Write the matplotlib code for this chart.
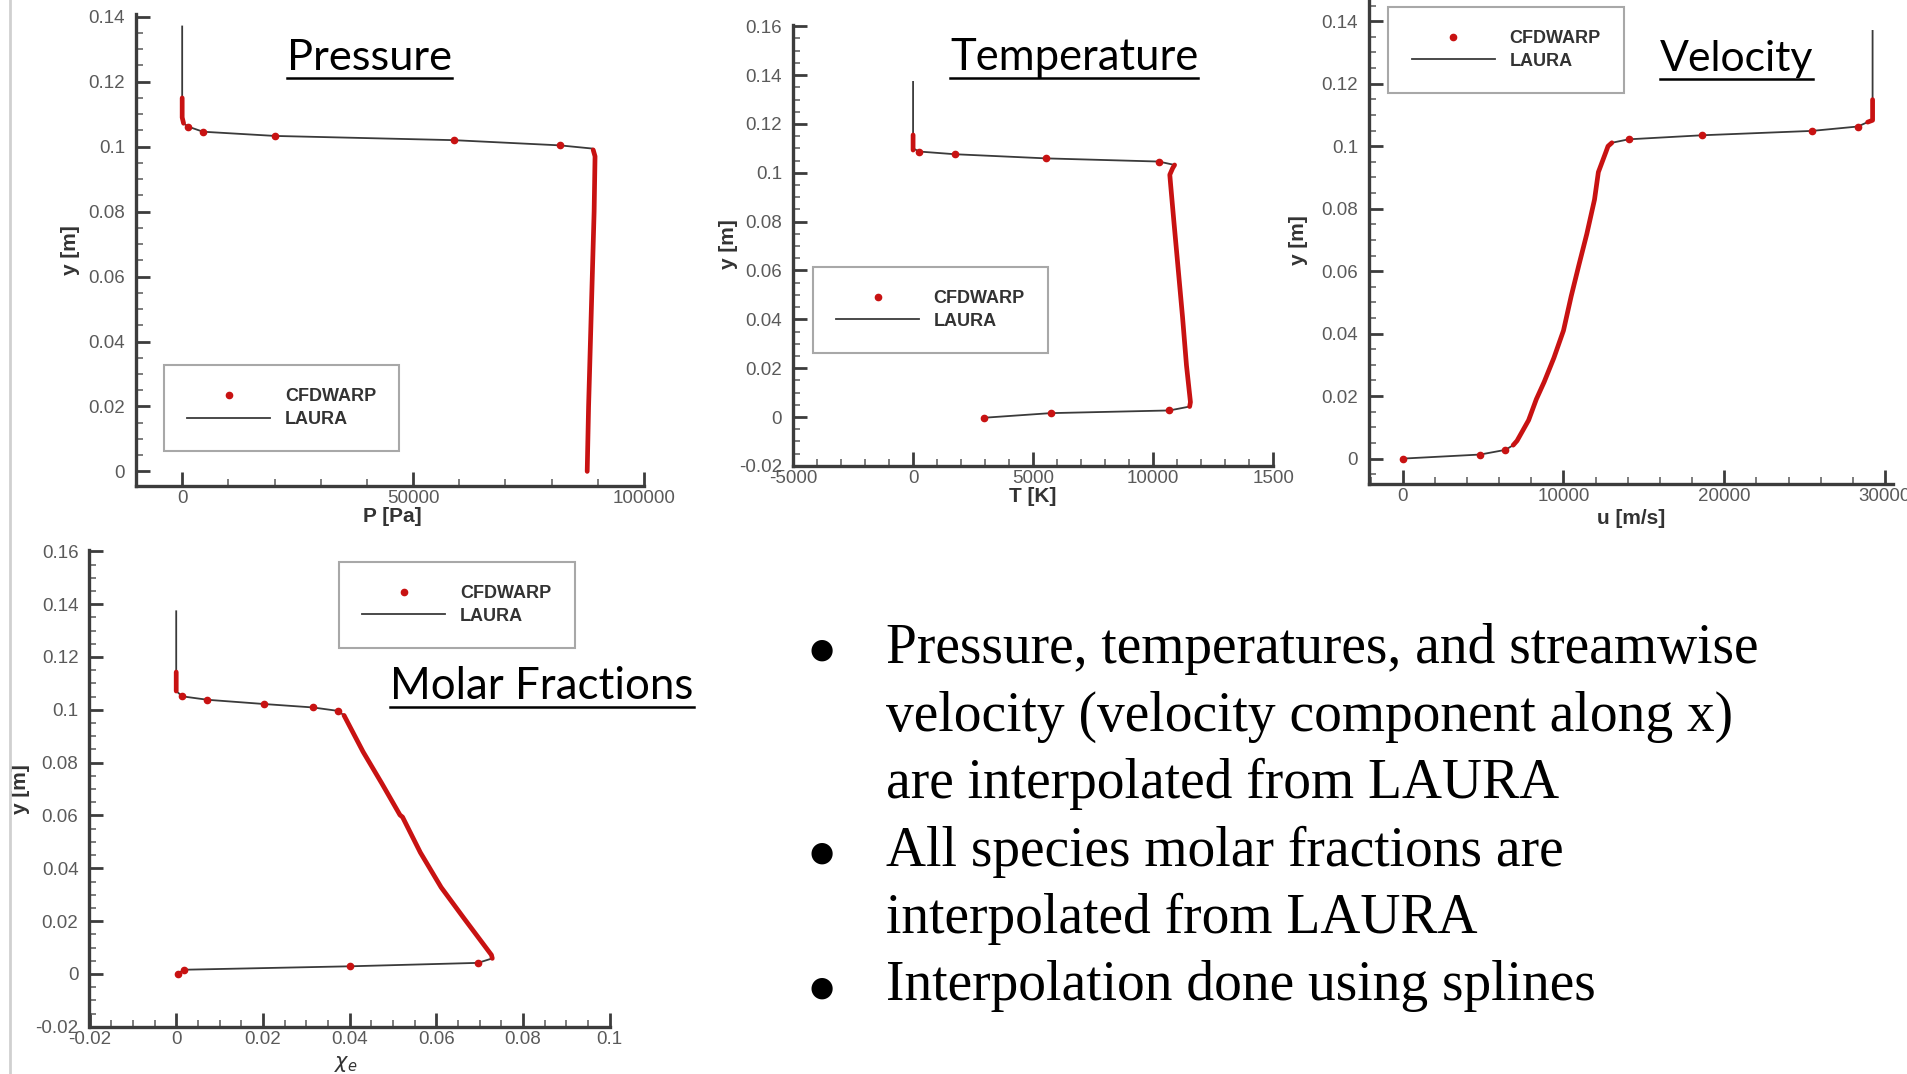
import numpy as np
import matplotlib
matplotlib.use("Agg")
import matplotlib.pyplot as plt
from matplotlib.lines import Line2D
from matplotlib.ticker import MultipleLocator, FuncFormatter, FixedLocator, FixedFormatter

nan = np.nan

# ---- Pressure profile (P [Pa] vs y [m]) ----
p_laura_x = [0, 0, 0, 300, 1240, 4490, 20080, 58800, 81740, 88900, 89400, 89200, 88800, 88400, 88000, 87700]
p_laura_y = [0.137, 0.115, 0.109, 0.1072, 0.1062, 0.1046, 0.1033, 0.1020, 0.1004, 0.0994, 0.097, 0.08, 0.06, 0.04, 0.02, 0.0]
p_cfd_x = [1240, 4490, 20080, 58800, 81740]
p_cfd_y = [0.1062, 0.1046, 0.1033, 0.1020, 0.1004]
p_cfd_dense_x = [0, 0, 0, 300, nan, 89000, 89400, 89200, 88800, 88400, 88000, 87700]
p_cfd_dense_y = [0.1150, 0.112, 0.109, 0.1072, nan, 0.0990, 0.097, 0.08, 0.06, 0.04, 0.02, 0.0]

# ---- Temperature profile (T [K] vs y [m]) ----
t_laura_x = [0, 0, 0, 248, 1733, 5528, 10230, 10890, 10810, 10690, 10725, 10857, 11220, 11385, 11550, 11517, 10676, 5726, 2937]
t_laura_y = [0.1372, 0.1155, 0.110, 0.1087, 0.1076, 0.1059, 0.1046, 0.1032, 0.1019, 0.0992, 0.0951, 0.0804, 0.041, 0.0211, 0.0061, 0.0043, 0.0027, 0.0016, -0.0003]
t_cfd_x = [248, 1733, 5528, 10230, 10676, 5726, 2937]
t_cfd_y = [0.1087, 0.1076, 0.1059, 0.1046, 0.0027, 0.0016, -0.0003]
t_cfd_dense_x = [0, 0, 0, nan, 10890, 10810, 10690, 10725, 10857, 11220, 11385, 11550, 11517]
t_cfd_dense_y = [0.1155, 0.112, 0.1093, nan, 0.1032, 0.1019, 0.0992, 0.0951, 0.0804, 0.041, 0.0211, 0.0061, 0.0043]
t_xticks = [-5000, 0, 5000, 10000, 15000]
t_xticklabels = ["-5000", "0", "5000", "10000", "1500"]

# ---- Streamwise velocity (u [m/s] vs y [m]) ----
u_laura_x = [29230, 29230, 29230, 28920, 28310, 25470, 18630, 14050, 13010, 12770, 12650, 12170, 11930,
             11450, 10960, 10480, 10000, 9400, 8795, 8310, 7830, 7110, 6870, 6390, 4820, 0]
u_laura_y = [0.1369, 0.1149, 0.1083, 0.1077, 0.1063, 0.1049, 0.1035, 0.1022, 0.1011, 0.1000, 0.0983, 0.0917, 0.0829,
             0.0719, 0.0620, 0.0520, 0.0410, 0.0322, 0.0245, 0.0190, 0.0123, 0.0057, 0.0043, 0.0028, 0.0013, 0.0]
u_cfd_x = [28310, 25470, 18630, 14050, 6390, 4820, 0]
u_cfd_y = [0.1063, 0.1049, 0.1035, 0.1022, 0.0028, 0.0013, 0.0]
u_cfd_dense_x = [29230, 29230, 29230, 28920, nan, 13010, 12770, 12650, 12170, 11930, 11450, 10960, 10480,
                 10000, 9400, 8795, 8310, 7830, 7110, 6870]
u_cfd_dense_y = [0.1149, 0.112, 0.1083, 0.1077, nan, 0.1011, 0.1000, 0.0983, 0.0917, 0.0829, 0.0719, 0.0620, 0.0520,
                 0.0410, 0.0322, 0.0245, 0.0190, 0.0123, 0.0057, 0.0043]

# ---- Molar fraction (chi_e vs y [m]) ----
m_laura_x = [0, 0, 0, 0.0014, 0.0072, 0.0202, 0.0315, 0.0373, 0.0387, 0.0431, 0.0474, 0.0516, 0.0522,
             0.0563, 0.0611, 0.0664, 0.0706, 0.0727, 0.0729, 0.0696, 0.0400, 0.0017, 0.0003]
m_laura_y = [0.1373, 0.1143, 0.1071, 0.1051, 0.1038, 0.1022, 0.1009, 0.0996, 0.0979, 0.0841, 0.0722, 0.0602, 0.0594,
             0.0460, 0.0328, 0.0210, 0.0118, 0.0072, 0.0059, 0.0042, 0.0029, 0.0016, 0.0]
m_cfd_x = [0.0014, 0.0072, 0.0202, 0.0315, 0.0373, 0.0696, 0.0400, 0.0017, 0.0003]
m_cfd_y = [0.1051, 0.1038, 0.1022, 0.1009, 0.0996, 0.0042, 0.0029, 0.0016, 0.0]
m_cfd_dense_x = [0, 0, 0, nan, 0.0387, 0.0431, 0.0474, 0.0516, 0.0522, 0.0563, 0.0611, 0.0664, 0.0706, 0.0727, 0.0729]
m_cfd_dense_y = [0.1143, 0.110, 0.1071, nan, 0.0979, 0.0841, 0.0722, 0.0602, 0.0594, 0.0460, 0.0328, 0.0210, 0.0118, 0.0072, 0.0059]

titles = ["Pressure", "Temperature", "Velocity", "Molar Fractions"]
bullets = [
    ["Pressure, temperatures, and streamwise",
     "velocity (velocity component along x)",
     "are interpolated from LAURA"],
    ["All species molar fractions are",
     "interpolated from LAURA"],
    ["Interpolation done using splines"],
]

W, H = 1908, 1074
RED = "#c81212"
AXC = "#3c3c3c"

plt.rcParams["font.family"] = ["Liberation Sans", "DejaVu Sans"]

fig = plt.figure(figsize=(W / 100, H / 100), dpi=100)
fig.patch.set_facecolor("white")


def fx(x):
    return x / W


def fy(y):
    return 1 - y / H


def panel(l, t, r, b):
    return fig.add_axes([l / W, 1 - b / H, (r - l) / W, (b - t) / H])


def fmt(v, pos):
    return "%g" % (round(v, 6) + 0.0)


def style(ax, xlim, ylim, xmaj, xmin, ymaj, ymin):
    ax.set_xlim(*xlim)
    ax.set_ylim(*ylim)
    for s in ["top", "right"]:
        ax.spines[s].set_visible(False)
    for s in ["left", "bottom"]:
        ax.spines[s].set_linewidth(2.4)
        ax.spines[s].set_color(AXC)
    ax.xaxis.set_major_locator(MultipleLocator(xmaj))
    ax.xaxis.set_minor_locator(MultipleLocator(xmin))
    ax.yaxis.set_major_locator(MultipleLocator(ymaj))
    ax.yaxis.set_minor_locator(MultipleLocator(ymin))
    ax.xaxis.set_major_formatter(FuncFormatter(fmt))
    ax.yaxis.set_major_formatter(FuncFormatter(fmt))
    ax.tick_params(which="major", direction="in", length=10, width=2, color=AXC,
                   labelsize=13.5, labelcolor="#5a5a5a")
    ax.tick_params(which="minor", direction="in", length=5, width=1.2, color="#666666")
    ax.tick_params(axis="x", pad=3)
    ax.tick_params(axis="y", pad=8)
    ax.patch.set_alpha(0)


def draw(ax, lx, ly, cx, cy, dx, dy):
    laura, = ax.plot(lx, ly, color="#3a3a3a", lw=1.3, zorder=2)
    ax.plot(dx, dy, color=RED, lw=3.4, zorder=3, solid_capstyle="round")
    cfd, = ax.plot(cx, cy, ls="none", marker="o", ms=4.5, mfc=RED, mec=RED, zorder=4)
    return cfd, laura


def legend(ax, handles, x, y):
    leg = ax.legend(handles, ["CFDWARP", "LAURA"], loc="upper left",
                    bbox_to_anchor=(fx(x), fy(y)), bbox_transform=fig.transFigure,
                    prop={"weight": "bold", "size": 13}, labelcolor="#333333",
                    frameon=True, fancybox=False, framealpha=1, edgecolor="#a8a8a8",
                    borderpad=1.3, handlelength=4.6, handletextpad=0.8,
                    labelspacing=0.3, numpoints=1, borderaxespad=0)
    leg.get_frame().set_linewidth(1.5)
    leg.set_zorder(10)


def labels(ax, xl, xpos, ypos):
    ax.set_xlabel(xl, fontsize=15, fontweight="bold", color="#333333")
    ax.set_ylabel("y [m]", fontsize=15, fontweight="bold", color="#333333")
    ax.xaxis.label.set_va("center")
    ax.yaxis.label.set_va("center")
    ax.xaxis.set_label_coords(fx(xpos[0]), fy(xpos[1]), transform=fig.transFigure)
    ax.yaxis.set_label_coords(fx(ypos[0]), fy(ypos[1]), transform=fig.transFigure)


# Pressure
ax1 = panel(136, 13.5, 644, 485.7)
style(ax1, (-10000, 100000), (-0.0044, 0.141), 50000, 10000, 0.02, 0.005)
h = draw(ax1, p_laura_x, p_laura_y, p_cfd_x, p_cfd_y, p_cfd_dense_x, p_cfd_dense_y)
legend(ax1, h, 163.8, 365)
labels(ax1, "P [Pa]", (392, 517), (70, 250))

# Temperature
ax2 = panel(793, 25, 1273.3, 465.9)
style(ax2, (-5000, 15000), (-0.02, 0.1605), 5000, 1000, 0.02, 0.005)
ax2.xaxis.set_major_locator(FixedLocator(t_xticks))
ax2.xaxis.set_major_formatter(FixedFormatter(t_xticklabels))
h = draw(ax2, t_laura_x, t_laura_y, t_cfd_x, t_cfd_y, t_cfd_dense_x, t_cfd_dense_y)
legend(ax2, h, 812.7, 266.9)
labels(ax2, "T [K]", (1033, 497), (729, 244))

# Velocity
ax3 = panel(1369, 0, 1893, 483.9)
style(ax3, (-2100, 30500), (-0.0081, 0.1468), 10000, 2000, 0.02, 0.005)
h = draw(ax3, u_laura_x, u_laura_y, u_cfd_x, u_cfd_y, u_cfd_dense_x, u_cfd_dense_y)
legend(ax3, h, 1388.4, 6.9)
labels(ax3, "u [m/s]", (1631, 518), (1298, 240))

# Molar fractions
ax4 = panel(89.5, 550, 609.8, 1026.8)
style(ax4, (-0.02, 0.1), (-0.02, 0.1605), 0.02, 0.005, 0.02, 0.005)
h = draw(ax4, m_laura_x, m_laura_y, m_cfd_x, m_cfd_y, m_cfd_dense_x, m_cfd_dense_y)
legend(ax4, h, 338.9, 561.9)
labels(ax4, r"$\chi_e$", (346, 1064), (21, 789))

# slide edge line
fig.add_artist(Line2D([fx(10), fx(10)], [0, 1], transform=fig.transFigure, color="#d0d0d0", lw=2))

fig.canvas.draw()
renderer = fig.canvas.get_renderer()


def fit_text(x, y, s, width, size, **kw):
    t = fig.text(fx(x), fy(y), s, fontsize=size, ha="left", va="baseline", **kw)
    w = t.get_window_extent(renderer).width
    t.set_fontsize(size * width / w)
    return t


# underlined panel titles
title_pos = [(287, 69.5, 165.6), (950, 69.6, 249), (1660, 70.6, 154), (390.3, 699.3, 304)]
for s, (x, y, w) in zip(titles, title_pos):
    t = fit_text(x, y, s, w, 32, family=["Lato", "DejaVu Sans"], color="black")
    bb = t.get_window_extent(renderer)
    fig.add_artist(Line2D([fx(bb.x0), fx(bb.x1)], [fy(y + 8), fy(y + 8)],
                          transform=fig.transFigure, color="black", lw=1.8))

# bullet text
probe = fig.text(0, 0, bullets[0][0], fontsize=40, family=["Liberation Serif", "DejaVu Serif"])
bsize = 40 * 872 / probe.get_window_extent(renderer).width
probe.remove()
baseline = 663
for group in bullets:
    fig.text(fx(821.7), fy(baseline - 13), "\u25cf", fontsize=20, ha="center", va="center",
             family=["DejaVu Sans"], color="black")
    for line in group:
        fig.text(fx(885.8), fy(baseline), line, fontsize=bsize, ha="left", va="baseline",
                 family=["Liberation Serif", "DejaVu Serif"], color="black")
        baseline += 67.5

fig.savefig("out.png", dpi=100)
